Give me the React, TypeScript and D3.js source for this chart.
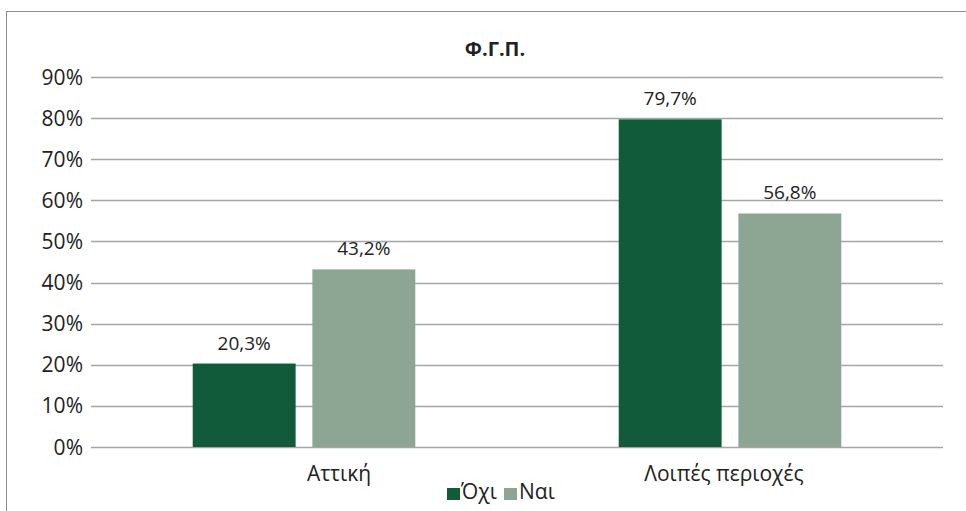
import React from "react";
import * as d3 from "d3";

const categories = ["Αττική", "Λοιπές περιοχές"];
const seriesNames = ["Όχι", "Ναι"];
const valuesOxi = [20.3, 79.7];
const valuesNai = [43.2, 56.8];
const yTicks = [0, 10, 20, 30, 40, 50, 60, 70, 80, 90];
const title = "Φ.Γ.Π.";

const colors = ["#125B3A", "#8DA693"];
const FONT = "'Open Sans', 'Noto Sans', sans-serif";

export default function App() {
  const W = 966, H = 511;
  const left = 91, right = 943, top = 77, bottom = 447;
  const x0 = d3.scaleBand<string>().domain(categories).range([left, right]).paddingInner(0).paddingOuter(0);
  const x1 = d3.scaleBand<string>().domain(seriesNames).range([0, x0.bandwidth()]).paddingInner(0.14).paddingOuter(0.85);
  const y = d3.scaleLinear().domain([0, 90]).range([bottom, top]);
  const series = [valuesOxi, valuesNai];
  const fmt = (v: number) => v.toFixed(1).replace(".", ",") + "%";
  const labelOffsets = [35, -6];

  return (
    <svg width={W} height={H} style={{ position: "absolute", left: 0, top: 0, background: "#fff" }} fontFamily={FONT}>
      <rect x={0} y={0} width={W} height={H} fill="#fff" />
      <rect x={6.5} y={11.5} width={990} height={540} fill="#fff" stroke="#8c8c8c" strokeWidth={1} />
      <text x={495} y={56} textAnchor="middle" fontSize={20} fontWeight="bold" fill="#222">{title}</text>
      {yTicks.map((t) => (
        <g key={t}>
          <line x1={left} x2={right} y1={Math.round(y(t)) + 0.5} y2={Math.round(y(t)) + 0.5} stroke="#a6a6a6" strokeWidth={1.3} />
          <text x={83} y={y(t) + 7.5} textAnchor="end" fontSize={21} fill="#222">{t}%</text>
        </g>
      ))}
      {categories.map((c, ci) =>
        seriesNames.map((s, si) => {
          const v = series[si][ci];
          const bx = (x0(c) ?? 0) + (x1(s) ?? 0);
          const bw = x1.bandwidth();
          return (
            <g key={c + s}>
              <rect x={bx} y={y(v)} width={bw} height={bottom - y(v)} fill={colors[si]} />
              <text x={bx + bw / 2} y={y(v) - 14} textAnchor="middle" fontSize={19} fill="#222">{fmt(v)}</text>
            </g>
          );
        })
      )}
      {categories.map((c, ci) => (
        <text key={c} x={(x0(c) ?? 0) + x0.bandwidth() / 2 + labelOffsets[ci]} y={481} textAnchor="middle" fontSize={21} fill="#222">{c}</text>
      ))}
      <g>
        <rect x={447} y={488} width={13} height={12} fill={colors[0]} />
        <text x={461} y={499} fontSize={21} fill="#222">{seriesNames[0]}</text>
        <rect x={504} y={488} width={13} height={12} fill={colors[1]} />
        <text x={519} y={499} fontSize={21} fill="#222">{seriesNames[1]}</text>
      </g>
    </svg>
  );
}
